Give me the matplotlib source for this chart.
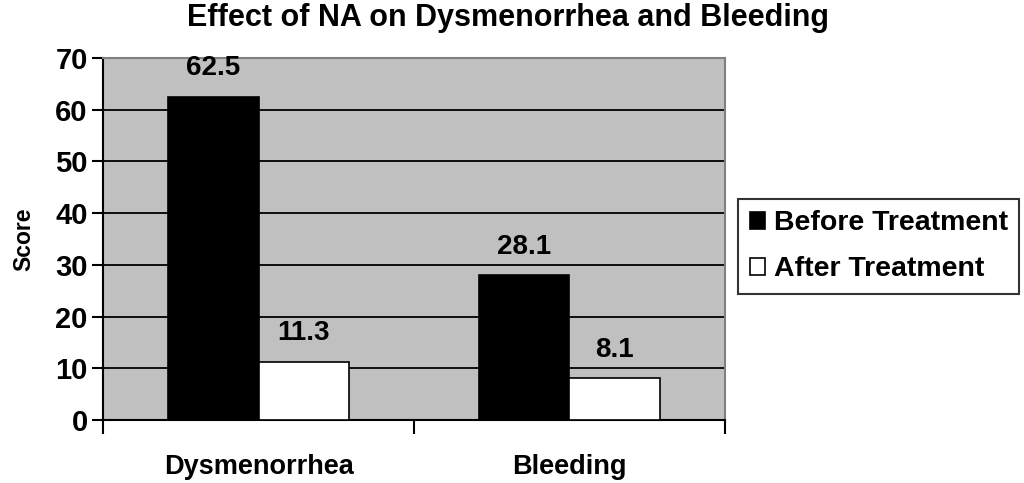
import numpy as np
import matplotlib
matplotlib.use("Agg")
import matplotlib.pyplot as plt

plt.rcParams['font.family'] = ['Liberation Sans', 'DejaVu Sans']
plt.rcParams['font.weight'] = 'bold'

categories = ["Dysmenorrhea", "Bleeding"]
series = ["Before Treatment", "After Treatment"]
before = [62.5, 28.1]
after = [11.3, 8.1]
yticks = [0, 10, 20, 30, 40, 50, 60, 70]

fig = plt.figure(figsize=(10.24, 4.83), dpi=100)
ax = fig.add_axes([0.1006, 0.130, 0.6074, 0.750])
ax.set_facecolor('#c0c0c0')

x = np.arange(len(categories))
w = 0.29
b1 = ax.bar(x - w/2, before, w, color='black', edgecolor='black', linewidth=1.2, label=series[0], zorder=3)
b2 = ax.bar(x + w/2, after, w, color='white', edgecolor='black', linewidth=1.2, label=series[1], zorder=3)

for bars in (b1, b2):
    for r in bars:
        ax.annotate(f"{r.get_height():.1f}", (r.get_x() + r.get_width()/2, r.get_height()),
                    xytext=(0, 11), textcoords='offset points', ha='center', va='bottom',
                    fontsize=20, fontweight='bold')

ax.set_xlim(-0.5, 1.5)
ax.set_ylim(0, 70)
ax.set_yticks(yticks)
ax.yaxis.grid(True, color='black', linewidth=1.3, zorder=1)
ax.set_axisbelow(True)

ax.set_xticks(x)
ax.set_xticklabels(categories)
ax.set_xticks([-0.5, 0.5, 1.5], minor=True)
ax.tick_params(axis='x', which='major', length=0, pad=24, labelsize=19.5)
ax.tick_params(axis='x', which='minor', length=10, width=1.5, direction='out')
ax.tick_params(axis='y', length=8, width=1.5, labelsize=21, pad=3)

for s in ['top', 'right']:
    ax.spines[s].set_color('#808080')
    ax.spines[s].set_linewidth(1.5)
ax.spines['left'].set_linewidth(1.5)
ax.spines['bottom'].set_linewidth(1.5)

ax.set_ylabel("Score", fontsize=16.5, fontweight='bold', labelpad=14)
fig.text(0.496, 0.963, "Effect of NA on Dysmenorrhea and Bleeding", ha='center', va='center',
         fontsize=22, fontweight='bold')

leg = ax.legend(loc='center left', bbox_to_anchor=(1.012, 0.48), frameon=True, fancybox=False,
                edgecolor='black', fontsize=20.5, handlelength=0.55, handleheight=0.55,
                handletextpad=0.3, borderpad=0.4, labelspacing=0.7, borderaxespad=0.2)
leg.get_frame().set_linewidth(1.5)
for t in leg.get_texts():
    t.set_fontweight('bold')

fig.savefig("out.png", dpi=100)
